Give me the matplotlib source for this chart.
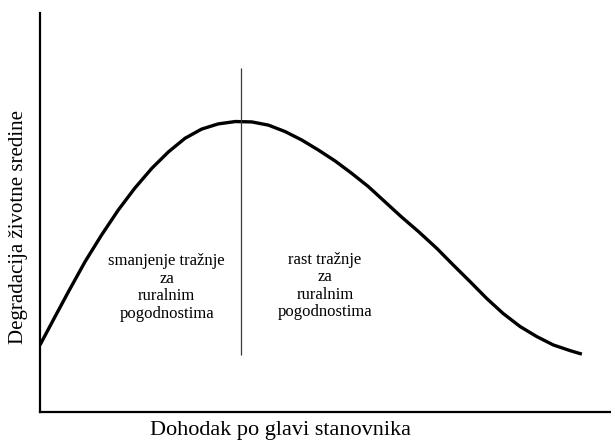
import numpy as np
import matplotlib
matplotlib.use('Agg')
import matplotlib.pyplot as plt

# curve (income 0-100, degradation 0-100)
income = [0, 2.6, 5.0, 7.9, 10.8, 13.7, 16.6, 19.6, 22.5, 25.4, 28.3, 31.2,
          34.2, 37.1, 40.0, 42.9, 45.8, 48.7, 51.7, 54.6, 57.5, 60.4, 63.3,
          66.3, 69.5, 72.4, 75.3, 78.2, 81.1, 84.1, 87.0, 89.9, 92.8, 94.9]
degradation = [16.8, 23.8, 30.2, 37.7, 44.4, 50.6, 56.1, 61.1, 65.2, 68.6,
               70.9, 72.2, 72.8, 72.7, 71.9, 70.3, 68.2, 65.7, 62.9, 59.8,
               56.5, 52.7, 48.9, 45.2, 41.0, 36.8, 32.7, 28.5, 24.7, 21.4,
               18.9, 16.8, 15.4, 14.5]

turning_point = 35.2
divider_range = [14.3, 86.2]

left_text = 'smanjenje tražnje\nza\nruralnim\npogodnostima'
right_text = 'rast tražnje\nza\nruralnim\npogodnostima'
xlabel = 'Dohodak po glavi stanovnika'
ylabel = 'Degradacija životne sredine'

plt.rcParams['font.family'] = ['Liberation Serif', 'DejaVu Serif']

fig = plt.figure(figsize=(6.11, 4.42), dpi=100)
ax = fig.add_axes([40 / 611, 30 / 442, 571 / 611, 399 / 442])

ax.plot(income, degradation, color='black', lw=2.4,
        solid_joinstyle='round', solid_capstyle='butt')
ax.vlines(turning_point, divider_range[0], divider_range[1], color='#3a3a3a', lw=0.9)

ax.text(22.2, 39.8, left_text, ha='center', va='top', fontsize=12,
        linespacing=1.13, multialignment='center')
ax.text(49.9, 40.2, right_text, ha='center', va='top', fontsize=12,
        linespacing=1.13, multialignment='center')

ax.set_xlim(0, 100)
ax.set_ylim(0, 100)
ax.set_xticks([])
ax.set_yticks([])
for side in ['top', 'right']:
    ax.spines[side].set_visible(False)
for side in ['left', 'bottom']:
    ax.spines[side].set_linewidth(1.6)

fig.text(281 / 611, 1 - 430 / 442, xlabel, ha='center', va='center', fontsize=16)
fig.text(19 / 611, 1 - 227 / 442, ylabel, ha='center', va='center',
         rotation=90, fontsize=15)

fig.savefig('out.png', dpi=100)
